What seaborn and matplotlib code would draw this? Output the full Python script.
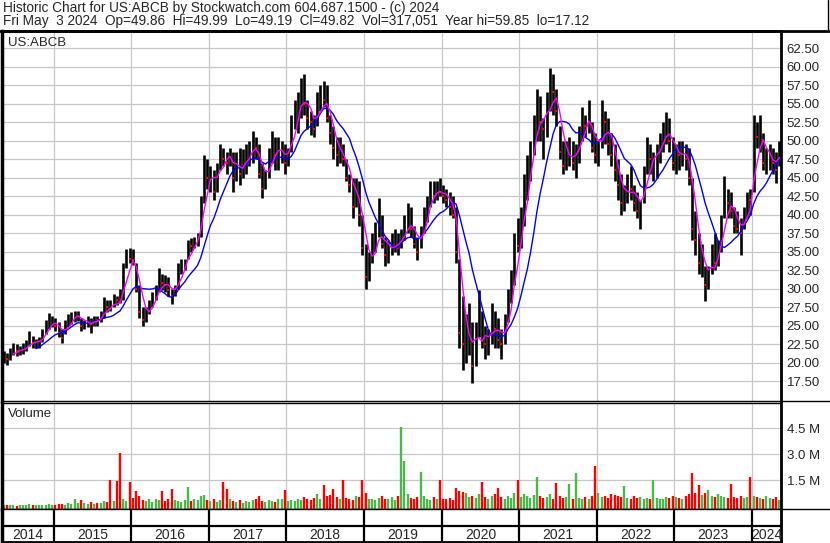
import numpy as np
import pandas as pd
import matplotlib
matplotlib.use("Agg")
import matplotlib.pyplot as plt
import seaborn as sns
from matplotlib.lines import Line2D

# semi-monthly bars, May 2014 .. May 2024
highs = [
    21.5, 21.3, 22.0, 22.7, 22.5, 22.3, 22.6, 23.0, 24.3, 23.6, 23.2, 23.4, 24.5, 25.8, 26.7, 26.3,
    26.0, 25.5, 24.5, 25.8, 26.5, 26.8, 27.0, 27.0, 26.0, 25.8, 26.3, 26.0, 26.3, 26.3, 27.0, 28.8,
    28.5, 28.5, 29.2, 29.0, 30.0, 33.5, 35.3, 35.5, 35.3, 33.5, 30.5, 27.5, 27.5, 28.5, 29.5, 30.5,
    32.8, 32.0, 31.8, 31.5, 30.0, 30.5, 33.5, 34.0, 34.0, 36.5, 36.8, 37.0, 37.5, 42.5, 48.0, 47.5,
    46.5, 46.0, 47.0, 49.5, 49.0, 48.5, 49.0, 48.5, 48.5, 49.0, 48.8, 49.5, 50.0, 51.3, 50.5, 49.5,
    47.0, 46.0, 49.0, 51.3, 50.5, 50.5, 50.0, 49.5, 49.0, 53.5, 55.5, 56.5, 58.5, 59.0, 55.5, 54.0,
    53.5, 56.5, 57.5, 58.0, 57.5, 53.5, 52.0, 50.5, 50.5, 49.5, 47.5, 45.5, 45.0, 45.0, 44.5, 40.0,
    36.0, 35.0, 37.5, 39.0, 42.3, 40.0, 37.0, 36.5, 37.5, 38.0, 37.5, 38.0, 40.0, 41.5, 41.0, 38.5,
    37.0, 38.5, 41.0, 42.5, 44.5, 44.5, 44.5, 45.0, 44.0, 43.5, 43.0, 42.5, 41.0, 34.0, 29.0, 26.5,
    28.0, 25.5, 25.5, 29.8, 27.0, 25.0, 24.5, 28.0, 27.0, 26.0, 24.5, 26.5, 30.0, 32.5, 37.5, 39.5,
    41.0, 45.5, 48.0, 50.0, 53.5, 57.0, 56.0, 53.0, 56.5, 59.85, 59.0, 57.0, 52.0, 50.0, 50.0, 50.5,
    50.0, 49.5, 52.0, 54.5, 53.5, 55.5, 52.5, 51.0, 50.0, 55.5, 54.0, 53.0, 51.0, 49.5, 47.5, 45.5,
    44.0, 45.5, 46.5, 44.0, 43.0, 42.0, 46.5, 50.5, 49.5, 48.5, 49.5, 51.0, 52.5, 53.8, 53.0, 50.5,
    49.5, 50.0, 50.0, 49.5, 49.0, 45.0, 40.5, 37.5, 36.0, 33.0, 33.0, 36.0, 37.5, 36.5, 40.0, 45.2,
    43.5, 43.0, 41.0, 40.5, 39.5, 41.0, 43.0, 43.5, 53.5, 52.5, 53.5, 51.0, 49.0, 49.5, 49.0, 48.5,
    50.0,
]
lows = [
    20.0, 19.6, 20.3, 21.0, 20.9, 21.0, 21.2, 21.5, 22.3, 22.0, 21.9, 22.0, 22.8, 23.8, 24.5, 24.8,
    24.2, 23.5, 22.6, 23.8, 24.8, 25.2, 25.5, 25.6, 24.3, 24.5, 24.8, 24.0, 25.0, 25.0, 25.5, 26.0,
    26.8, 27.0, 27.5, 27.8, 28.0, 28.5, 32.8, 33.5, 33.2, 29.5, 26.0, 24.9, 25.5, 26.5, 27.5, 28.5,
    29.5, 29.8, 29.5, 29.0, 27.9, 29.0, 30.0, 32.0, 32.5, 34.0, 35.0, 35.5, 35.8, 37.0, 41.5, 43.5,
    43.0, 42.0, 43.0, 46.0, 46.5, 45.5, 46.5, 43.0, 44.5, 44.0, 45.0, 45.5, 46.5, 47.0, 47.5, 45.0,
    42.3, 43.5, 45.0, 47.0, 46.0, 46.0, 47.0, 45.5, 46.5, 48.5, 51.5, 51.0, 53.0, 53.5, 51.5, 50.8,
    50.5, 52.0, 54.0, 54.5, 52.5, 49.5, 47.5, 46.5, 47.0, 46.5, 44.5, 43.0, 39.5, 41.0, 38.5, 34.5,
    30.0, 31.0, 33.5, 35.0, 37.0, 35.5, 33.0, 33.5, 34.5, 35.0, 34.5, 35.5, 36.5, 37.5, 37.0, 35.5,
    33.8, 35.5, 37.5, 39.0, 41.0, 41.5, 42.0, 42.5, 41.5, 41.0, 40.0, 39.5, 33.5, 22.0, 19.0, 20.0,
    21.0, 17.2, 19.5, 23.5, 22.0, 20.5, 21.0, 22.5, 22.0, 22.0, 20.5, 22.5, 25.5, 28.0, 30.5, 35.0,
    35.5, 38.5, 42.0, 44.5, 48.0, 50.0, 50.0, 47.5, 50.5, 54.0, 53.5, 52.0, 47.5, 45.5, 46.0, 46.5,
    46.0, 45.0, 47.0, 50.0, 50.5, 51.0, 48.5, 47.0, 46.5, 49.0, 49.5, 48.0, 46.5, 44.5, 42.0, 40.0,
    40.5, 41.5, 42.0, 40.5, 39.5, 38.0, 41.5, 45.5, 45.5, 44.5, 45.0, 47.0, 48.5, 49.5, 48.5, 46.0,
    45.5, 46.0, 46.5, 46.0, 44.0, 36.5, 34.5, 32.0, 31.5, 28.3, 30.0, 32.0, 32.5, 33.0, 35.0, 39.5,
    39.5, 39.5, 37.5, 37.5, 34.5, 38.0, 39.5, 40.0, 43.0, 49.0, 48.5, 46.0, 45.5, 46.0, 45.5, 44.2,
    46.5,
]
closes = [
    20.8, 20.5, 21.5, 21.8, 21.5, 21.6, 22.0, 22.5, 23.2, 22.6, 22.8, 22.9, 24.0, 25.2, 25.5, 25.6,
    25.0, 24.0, 23.3, 25.3, 26.0, 26.3, 26.4, 26.5, 24.9, 25.2, 25.6, 25.2, 25.8, 25.7, 26.5, 28.0,
    27.5, 27.2, 28.5, 28.4, 28.2, 33.0, 34.2, 34.0, 33.8, 30.0, 26.8, 25.8, 26.8, 28.0, 28.8, 29.8,
    31.0, 30.8, 30.5, 29.8, 29.0, 30.2, 33.0, 33.2, 33.5, 36.0, 35.8, 36.5, 37.0, 42.0, 46.5, 45.0,
    45.5, 43.0, 46.5, 48.5, 47.5, 47.0, 48.5, 45.0, 47.0, 45.5, 47.5, 48.0, 49.0, 49.5, 49.0, 45.5,
    43.5, 45.5, 48.5, 49.5, 48.0, 48.5, 49.0, 47.0, 48.5, 53.0, 53.5, 55.0, 57.0, 55.0, 53.0, 52.5,
    51.5, 55.5, 56.0, 55.5, 53.0, 51.0, 49.0, 48.0, 48.5, 47.5, 45.0, 44.0, 41.0, 43.5, 40.0, 35.5,
    31.5, 34.0, 36.5, 37.0, 38.5, 36.0, 34.5, 35.5, 36.0, 36.5, 35.5, 37.5, 38.5, 40.0, 38.0, 36.0,
    35.0, 38.0, 40.5, 42.0, 43.5, 42.5, 43.5, 43.0, 42.5, 42.0, 41.0, 40.0, 35.0, 24.0, 22.5, 24.0,
    25.0, 19.5, 24.0, 25.0, 23.0, 22.5, 23.5, 26.5, 24.5, 23.0, 22.5, 26.0, 29.0, 31.0, 36.0, 35.8,
    40.5, 44.0, 46.0, 49.5, 52.0, 55.0, 52.5, 51.5, 55.5, 57.0, 56.5, 54.0, 48.5, 46.5, 48.5, 49.0,
    47.0, 47.5, 51.5, 53.5, 52.0, 53.5, 49.0, 48.0, 49.5, 53.0, 52.5, 49.5, 48.0, 46.0, 44.0, 41.5,
    42.5, 44.5, 43.5, 41.5, 40.5, 41.5, 46.0, 48.0, 47.5, 48.0, 48.5, 50.0, 51.5, 52.0, 50.0, 47.0,
    48.5, 48.0, 49.0, 47.5, 45.0, 38.0, 36.5, 33.5, 34.0, 30.5, 32.0, 35.0, 33.5, 35.5, 39.5, 43.0,
    41.5, 40.5, 38.5, 38.0, 37.5, 40.5, 42.5, 42.0, 52.0, 50.5, 51.0, 47.0, 47.5, 48.0, 47.0, 46.0,
    49.82,
]
# volume in millions
volumes = [
    0.08, 0.06, 0.10, 0.07, 0.05, 0.09, 0.06, 0.08, 0.12, 0.07, 0.09, 0.06, 0.10, 0.08, 0.11, 0.07,
    0.10, 0.12, 0.15, 0.10, 0.22, 0.12, 0.45, 0.20, 0.35, 0.18, 0.15, 0.25, 0.12, 0.18, 0.20, 0.30,
    0.25, 1.50, 0.30, 1.45, 3.10, 0.40, 0.30, 1.40, 0.50, 0.90, 0.60, 0.35, 0.30, 0.45, 0.25, 0.40,
    0.35, 0.90, 0.30, 0.40, 1.00, 0.35, 0.30, 0.25, 0.35, 1.10, 0.30, 0.40, 0.35, 0.60, 0.65, 0.35,
    0.30, 0.40, 0.25, 0.35, 1.40, 1.00, 0.40, 0.30, 0.25, 0.35, 0.20, 0.30, 0.25, 0.35, 0.45, 0.60,
    0.30, 0.25, 0.35, 0.30, 0.25, 0.40, 0.45, 0.95, 0.30, 0.35, 0.30, 0.45, 0.35, 0.55, 0.40, 0.35,
    0.50, 0.70, 0.45, 1.25, 0.60, 0.65, 1.00, 0.55, 0.45, 1.50, 0.50, 0.40, 0.35, 0.60, 0.55, 1.55,
    0.75, 0.45, 0.40, 0.35, 0.50, 0.60, 0.45, 0.40, 0.55, 0.35, 0.60, 4.60, 2.60, 0.70, 0.50, 0.45,
    0.55, 2.00, 0.60, 0.45, 0.35, 0.55, 0.40, 1.50, 0.45, 0.40, 0.50, 0.35, 1.05, 0.90, 0.85, 0.75,
    0.55, 0.60, 0.50, 0.70, 1.40, 0.55, 0.45, 0.60, 0.70, 1.05, 0.55, 0.45, 0.60, 0.50, 0.80, 1.50,
    0.55, 0.70, 0.60, 0.50, 0.65, 1.70, 0.60, 0.50, 0.55, 0.70, 0.45, 1.35, 0.60, 0.50, 0.55, 1.30,
    0.45, 1.90, 0.50, 0.40, 0.55, 0.45, 0.60, 2.35, 0.75, 0.55, 0.60, 0.50, 0.70, 0.65, 0.60, 0.55,
    1.20, 0.50, 0.45, 0.60, 0.50, 0.55, 0.40, 0.50, 0.45, 1.50, 0.50, 0.40, 0.45, 0.55, 0.50, 0.60,
    0.55, 0.50, 0.45, 0.60, 0.70, 1.95, 0.80, 1.25, 0.65, 0.75, 0.95, 0.60, 0.55, 0.70, 0.60, 0.55,
    0.50, 1.30, 0.55, 0.50, 0.60, 0.50, 0.55, 1.70, 0.60, 0.55, 0.50, 0.45, 0.60, 0.50, 0.45, 0.55,
    0.35,
]
price_ticks = [17.5, 20.0, 22.5, 25.0, 27.5, 30.0, 32.5, 35.0, 37.5, 40.0, 42.5, 45.0, 47.5,
               50.0, 52.5, 55.0, 57.5, 60.0, 62.5]
vol_ticks = [1.5, 3.0, 4.5]
vol_labels = ["1.5 M", "3.0 M", "4.5 M"]
years = list(range(2014, 2025))

title1 = "Historic Chart for US:ABCB by Stockwatch.com 604.687.1500 - (c) 2024"
title2 = ("Fri May  3 2024  Op=49.86  Hi=49.99  Lo=49.19  Cl=49.82  Vol=317,051  "
          "Year hi=59.85  lo=17.12")

df = pd.DataFrame({
    "date": pd.date_range("2014-05-01", periods=len(closes), freq="SMS"),
    "high": highs, "low": lows, "close": closes, "volume": volumes,
})
df["i"] = np.arange(len(df))
df["ma_fast"] = df["close"].rolling(4).mean()
df["ma_slow"] = df["close"].rolling(11).mean()
df["up"] = df["close"].diff().fillna(0) >= 0

# year boundaries / label centres in bar-index units
bounds = [df.index[df["date"].dt.year == y][0] - 0.5 for y in years]
xmin, xmax = -0.5, len(df) - 0.5
edges = [xmin] + bounds[1:] + [xmax]
centres = [(edges[k] + edges[k + 1]) / 2 for k in range(len(years))]

sns.set_style("white")
plt.rcParams["font.family"] = ["Liberation Sans", "DejaVu Sans"]

W, H = 830, 543
fig = plt.figure(figsize=(W / 100, H / 100), dpi=100)

def box(x0, y0, x1, y1):
    return [x0 / W, 1 - y1 / H, (x1 - x0) / W, (y1 - y0) / H]

grid_c = "#c8c8c8"
ax_p = fig.add_axes(box(2, 31, 781, 401))
ax_v = fig.add_axes(box(2, 403, 781, 509))
ax_d = fig.add_axes(box(2, 509, 781, 542))

# ---- price panel
for b in bounds[1:]:
    ax_p.axvline(b, color=grid_c, lw=0.9, zorder=0)
for t in price_ticks:
    ax_p.axhline(t, color=grid_c, lw=0.9, zorder=0)
ax_p.vlines(df["i"], df["low"], df["high"], color="black", lw=1.9, zorder=2)
down = df[~df["up"]]
ax_p.plot(down["i"], down["close"], "s", color="red", ms=1.6, mew=0, zorder=3)
sns.lineplot(data=df, x="i", y="ma_slow", color="#0000ff", lw=1.0, ax=ax_p, zorder=4)
sns.lineplot(data=df, x="i", y="ma_fast", color="#ff00ff", lw=1.0, ax=ax_p, zorder=5)
ax_p.set_xlim(xmin, xmax)
ax_p.set_ylim(14.8, 64.8)
ax_p.yaxis.tick_right()
ax_p.set_yticks(price_ticks)
ax_p.set_yticklabels([f"{t:.2f}" for t in price_ticks])
ax_p.set_xticks([])
ax_p.tick_params(axis="y", length=0, pad=4, labelsize=9.5)
ax_p.set_xlabel("")
ax_p.set_ylabel("")
ax_p.text(0.008, 0.968, "US:ABCB", fontsize=9.5, va="center", transform=ax_p.transAxes)

# ---- volume panel
vbot = -0.15
for b in bounds[1:]:
    ax_v.axvline(b, color=grid_c, lw=0.9, zorder=0)
for t in vol_ticks:
    ax_v.axhline(t, color=grid_c, lw=0.9, zorder=0)
vcol = np.where(df["up"], "#4cb84c", "#ff0000")
ax_v.vlines(df["i"], vbot, df["volume"], colors=vcol, lw=1.7, zorder=2)
ax_v.set_xlim(xmin, xmax)
ax_v.set_ylim(vbot, 5.97)
ax_v.yaxis.tick_right()
ax_v.set_yticks(vol_ticks)
ax_v.set_yticklabels(vol_labels)
ax_v.set_xticks([])
ax_v.tick_params(axis="y", length=0, pad=4, labelsize=9.5)
ax_v.text(0.008, 0.9, "Volume", fontsize=9.5, va="center", transform=ax_v.transAxes)

# ---- date strip
ax_d.set_xlim(xmin, xmax)
ax_d.set_ylim(0, 1)
ax_d.axhline(0.5, color="black", lw=1.6)
for b in bounds[1:]:
    ax_d.axvline(b, color="black", lw=1.6)
for c, y in zip(centres, years):
    ax_d.text(c, 0.22, str(y), ha="center", va="center", fontsize=10)
ax_d.set_xticks([])
ax_d.set_yticks([])

for ax in (ax_p, ax_v, ax_d):
    for s in ax.spines.values():
        s.set_color("black")
        s.set_linewidth(1.0)
    ax.spines["left"].set_linewidth(2.5)
    ax.spines["right"].set_linewidth(2.0)
ax_p.spines["top"].set_linewidth(2.0)
ax_d.spines["bottom"].set_linewidth(2.0)

# frame lines outside the axes
def fline(x0, y0, x1, y1, lw=1.0):
    fig.add_artist(Line2D([x0 / W, x1 / W], [1 - y0 / H, 1 - y1 / H], color="black", lw=lw))

fline(0, 30.5, 829, 30.5, 2.0)
fline(828, 0, 828, 31, 1.0)
fline(781, 401, 830, 401, 1.0)
fline(781, 509, 830, 509, 1.0)

fig.text(3 / W, 1 - 8 / H, title1, fontsize=9.8, va="center")
fig.text(3 / W, 1 - 21.5 / H, title2, fontsize=9.8, va="center")

fig.savefig("out.png", dpi=100)
